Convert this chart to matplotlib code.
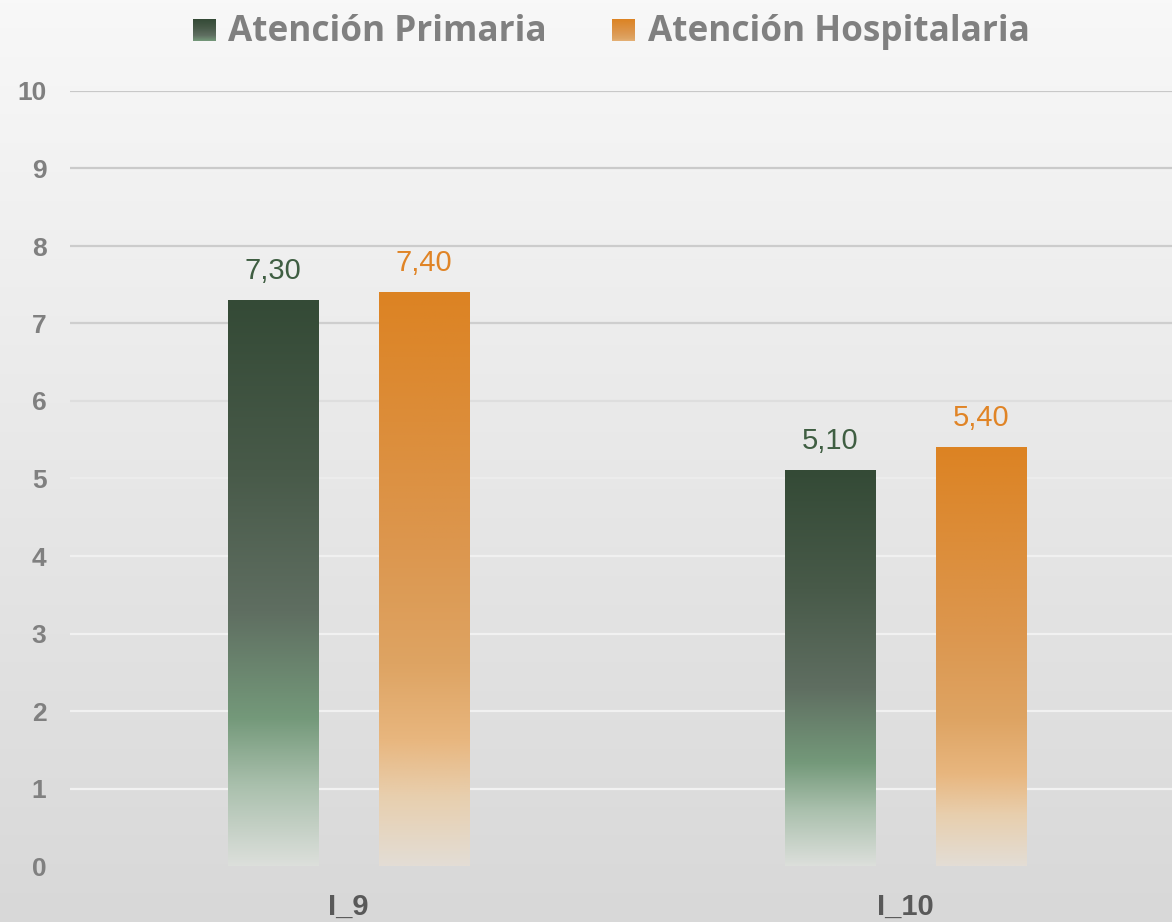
import matplotlib
matplotlib.use("Agg")
import matplotlib.pyplot as plt
import numpy as np
from matplotlib.colors import LinearSegmentedColormap

# datos
categorias = ["I_9", "I_10"]
primaria = [7.30, 5.10]
hospitalaria = [7.40, 5.40]
series = ["Atención Primaria", "Atención Hospitalaria"]
yticks = list(range(0, 11))

# gradientes (arriba -> abajo)
verde = LinearSegmentedColormap.from_list("verde", [
    (0.00, "#344a36"), (0.30, "#485a49"), (0.55, "#5f6e61"),
    (0.74, "#74997a"), (0.86, "#aac0ad"), (1.00, "#dcdfdb")])
naranja = LinearSegmentedColormap.from_list("naranja", [
    (0.00, "#dc8323"), (0.45, "#dc974f"), (0.65, "#dea463"),
    (0.78, "#e8b67e"), (0.88, "#e8cfae"), (1.00, "#e3ddd5")])
mapas = [verde, naranja]
col_etq = ["#3f5e42", "#e08426"]

fig = plt.figure(figsize=(11.72, 9.22), dpi=100)

# fondo con degradado
bg = fig.add_axes([0, 0, 1, 1])
bg.imshow(np.linspace(0, 1, 256).reshape(-1, 1),
          cmap=LinearSegmentedColormap.from_list("bg", ["#f8f8f8", "#d8d8d8"]),
          aspect="auto", extent=[0, 1, 0, 1])
bg.axis("off")

ax = fig.add_axes([70/1172, 56/922, 2*557/1172, 775/922])
ax.set_zorder(1)
ax.patch.set_alpha(0)

x = np.arange(len(categorias))
ancho = 0.1616
off = 0.136
grad = np.linspace(0, 1, 256).reshape(-1, 1)

for i, (vals, cm) in enumerate(zip([primaria, hospitalaria], mapas)):
    pos = x + (-off if i == 0 else off)
    bars = ax.bar(pos, vals, width=ancho, color="none", zorder=3)
    for b, v in zip(bars, vals):
        x0, w, h = b.get_x(), b.get_width(), b.get_height()
        ax.imshow(grad, cmap=cm, extent=[x0, x0 + w, 0, h], aspect="auto", zorder=3)
        ax.annotate(f"{v:.2f}".replace(".", ","), (x0 + w/2, h),
                    xytext=(0, 11), textcoords="offset points",
                    ha="center", va="bottom", fontsize=21, fontweight="medium",
                    family="Liberation Sans", color=col_etq[i])

# lineas de cuadricula
niv = [0, 4, 5, 6, 7, 10]
gris = [242, 240, 236, 222, 206, 200]
for t in yticks[1:]:
    g = np.interp(t, niv, gris) / 255
    ax.axhline(t, color=(g, g, g), lw=1.6, zorder=1)

ax.set_xlim(-0.5, 1.5)
ax.set_ylim(0, 10)
ax.set_yticks(yticks)
ax.set_xticks(x)
ax.set_xticklabels(categorias)
for s in ax.spines.values():
    s.set_visible(False)
ax.tick_params(axis="y", length=0, pad=17, labelsize=19, labelcolor="#808080")
ax.tick_params(axis="x", length=0, pad=19, labelsize=21, labelcolor="#595959")
for lb in ax.get_yticklabels():
    lb.set_family("Liberation Sans")
    lb.set_fontweight("bold")
for lb in ax.get_xticklabels():
    lb.set_family("Liberation Sans")
    lb.set_fontweight("bold")

# leyenda
leg_x = [193, 612]
txt_x = [228, 648]
for nombre, cm, mx, tx in zip(series, mapas, leg_x, txt_x):
    la = fig.add_axes([mx/1172, 1 - 41/922, 23/1172, 22/922])
    la.imshow(grad, cmap=cm, aspect="auto", vmin=0, vmax=1.35)
    la.axis("off")
    fig.text(tx/1172, 1 - 41/922, nombre, ha="left", va="baseline",
             fontsize=25.3, fontweight="bold", family="Open Sans", color="#808080")

fig.savefig("out.png", dpi=100)
